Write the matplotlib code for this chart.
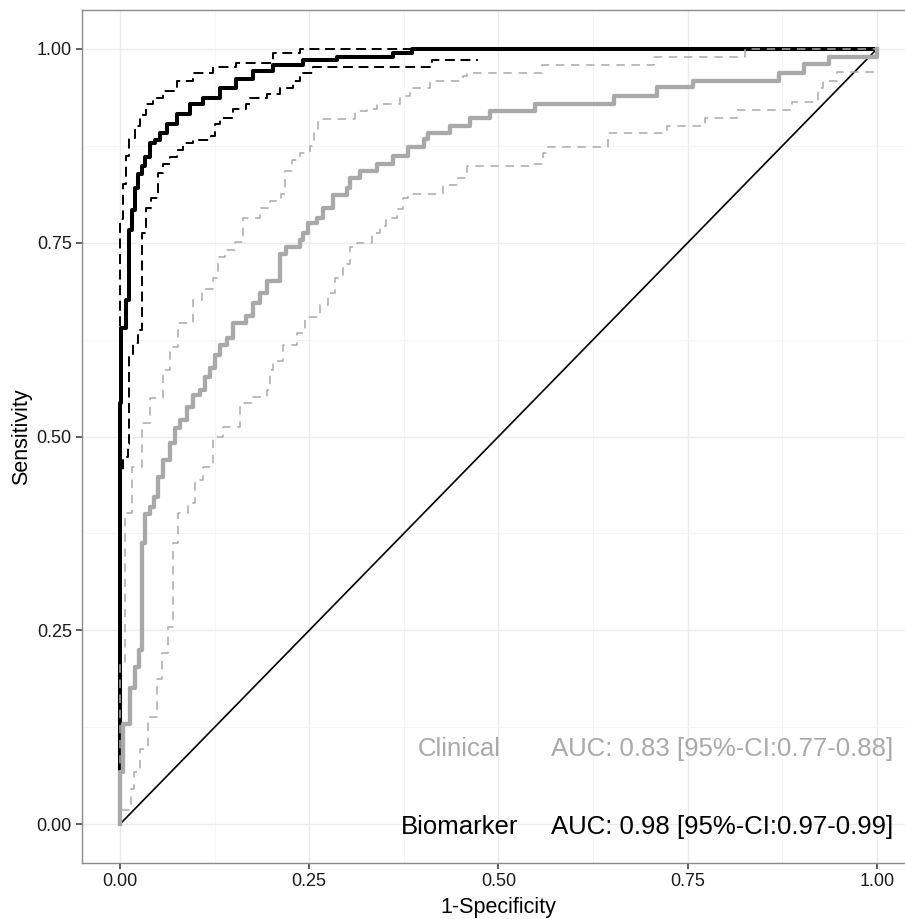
import matplotlib.pyplot as plt
from matplotlib.ticker import MultipleLocator

# font
plt.rcParams["font.family"] = ["Liberation Sans", "DejaVu Sans"]

# add data: ROC staircases, each point = (1-specificity, sensitivity reached there)
bio_fpr = [0, 0, 0.002, 0.008, 0.012, 0.0155, 0.0198, 0.0238, 0.0287, 0.033, 0.0396, 0.046,
           0.0528, 0.0617, 0.0749, 0.0925, 0.1096, 0.132, 0.154, 0.176, 0.202, 0.242, 0.287,
           0.361, 0.386, 1.0]
bio_tpr = [0, 0.543, 0.64, 0.676, 0.766, 0.792, 0.820, 0.839, 0.849, 0.860, 0.878, 0.882,
           0.892, 0.903, 0.916, 0.929, 0.937, 0.950, 0.961, 0.972, 0.979, 0.985, 0.989,
           0.994, 1.0, 1.0]

bio_hi_fpr = [0, 0, 0.0036, 0.008, 0.0123, 0.020, 0.0264, 0.035, 0.0436, 0.057, 0.0749, 0.0964,
              0.123, 0.154, 0.202, 0.238, 1.0]
bio_hi_tpr = [0, 0.78, 0.826, 0.862, 0.885, 0.901, 0.914, 0.929, 0.937, 0.946, 0.959, 0.969,
              0.976, 0.982, 0.994, 1.0, 1.0]

bio_lo_fpr = [0, 0, 0.0044, 0.011, 0.0123, 0.0167, 0.024, 0.0287, 0.034, 0.0406, 0.0506, 0.0572,
              0.066, 0.0749, 0.0836, 0.0968, 0.121, 0.1255, 0.132, 0.150, 0.167, 0.172, 0.194,
              0.211, 0.229, 0.238, 0.255, 0.412, 0.473]
bio_lo_tpr = [0, 0.457, 0.473, 0.49, 0.603, 0.62, 0.637, 0.762, 0.795, 0.808, 0.840, 0.852,
              0.860, 0.869, 0.878, 0.882, 0.888, 0.903, 0.911, 0.923, 0.929, 0.937, 0.942,
              0.950, 0.959, 0.969, 0.976, 0.986, 0.986]

clin_fpr = [0, 0, 0.0044, 0.0132, 0.0198, 0.0255, 0.0295, 0.033, 0.0396, 0.0449, 0.0506, 0.0572,
            0.066, 0.0727, 0.0793, 0.0881, 0.0968, 0.1057, 0.1123, 0.1189, 0.1255, 0.132, 0.141,
            0.150, 0.167, 0.176, 0.185, 0.194, 0.211, 0.220, 0.238, 0.242, 0.248, 0.260, 0.268,
            0.282, 0.2995, 0.304, 0.317, 0.339, 0.361, 0.381, 0.401, 0.407, 0.436, 0.462, 0.489,
            0.548, 0.652, 0.709, 0.757, 0.870, 0.903, 0.936, 1.0, 1.0]
clin_tpr = [0, 0.068, 0.129, 0.176, 0.203, 0.225, 0.363, 0.40, 0.409, 0.422, 0.448, 0.470,
            0.492, 0.511, 0.521, 0.538, 0.553, 0.560, 0.577, 0.588, 0.605, 0.618, 0.627,
            0.646, 0.656, 0.672, 0.685, 0.701, 0.736, 0.744, 0.753, 0.762, 0.775, 0.782, 0.795,
            0.811, 0.821, 0.833, 0.843, 0.852, 0.862, 0.873, 0.884, 0.892, 0.901, 0.911, 0.920,
            0.929, 0.939, 0.951, 0.959, 0.969, 0.980, 0.990, 1.0, 1.0]

clin_hi_fpr = [0, 0, 0.0066, 0.0154, 0.0287, 0.0396, 0.0569, 0.066, 0.077, 0.0964, 0.108, 0.123,
               0.130, 0.139, 0.152, 0.163, 0.185, 0.198, 0.213, 0.218, 0.227, 0.238, 0.251,
               0.257, 0.262, 0.310, 0.326, 0.339, 0.370, 0.383, 0.410, 0.4535, 0.458, 0.557,
               0.705, 0.826, 1.0]
clin_hi_tpr = [0, 0.208, 0.401, 0.461, 0.517, 0.55, 0.586, 0.615, 0.646, 0.676, 0.690, 0.705,
               0.731, 0.740, 0.751, 0.782, 0.795, 0.804, 0.813, 0.843, 0.856, 0.866, 0.875,
               0.892, 0.910, 0.920, 0.923, 0.929, 0.939, 0.950, 0.959, 0.965, 0.969, 0.979,
               0.989, 1.0, 1.0]

clin_lo_fpr = [0, 0, 0.0143, 0.0188, 0.0268, 0.0374, 0.0493, 0.0551, 0.0638, 0.0704, 0.077,
               0.0902, 0.099, 0.110, 0.123, 0.1365, 0.1585, 0.176, 0.194, 0.198, 0.2025, 0.216,
               0.2334, 0.2444, 0.264, 0.275, 0.284, 0.295, 0.304, 0.3127, 0.3325, 0.3435, 0.352,
               0.3655, 0.374, 0.381, 0.427, 0.445, 0.458, 0.5416, 0.559, 0.5637, 0.645, 0.722,
               0.773, 0.815, 0.887, 0.922, 0.929, 0.947, 1.0]
clin_lo_tpr = [0, 0.019, 0.045, 0.067, 0.097, 0.138, 0.187, 0.221, 0.255, 0.363, 0.401,
               0.414, 0.444, 0.461, 0.499, 0.512, 0.543, 0.551, 0.560, 0.586, 0.598, 0.618,
               0.633, 0.654, 0.669, 0.685, 0.705, 0.723, 0.744, 0.749, 0.762, 0.772, 0.782,
               0.794, 0.808, 0.813, 0.824, 0.834, 0.849, 0.852, 0.865, 0.873, 0.891, 0.901,
               0.911, 0.921, 0.931, 0.949, 0.959, 0.970, 0.970]

labels = ["Clinical", "Biomarker"]
auc_text = ["AUC: 0.83 [95%-CI:0.77-0.88]", "AUC: 0.98 [95%-CI:0.97-0.99]"]

black = "black"
grey = "#a9a9a9"

fig = plt.figure(figsize=(9.05, 9.19), dpi=100)
ax = fig.add_axes([0.0906, 0.0609, 0.9204, 0.9282])

# grid like theme_bw
ax.xaxis.set_major_locator(MultipleLocator(0.25))
ax.yaxis.set_major_locator(MultipleLocator(0.25))
ax.xaxis.set_minor_locator(MultipleLocator(0.125))
ax.yaxis.set_minor_locator(MultipleLocator(0.125))
ax.grid(which="major", color="#ebebeb", lw=1.0, zorder=0)
ax.grid(which="minor", color="#f4f4f4", lw=0.6, zorder=0)
ax.set_axisbelow(True)

# draw lines
ax.plot([0, 1], [0, 1], color="black", lw=1.2, zorder=2)
ax.plot(bio_fpr, bio_tpr, drawstyle="steps-post", color=black, lw=2.9, zorder=3)
ax.plot(bio_hi_fpr, bio_hi_tpr, drawstyle="steps-post", color=black, lw=1.4,
        linestyle=(0, (5.1, 2.9)), zorder=4)
ax.plot(bio_lo_fpr, bio_lo_tpr, drawstyle="steps-post", color=black, lw=1.4,
        linestyle=(0, (5.1, 2.9)), zorder=4)
ax.plot(clin_fpr, clin_tpr, drawstyle="steps-post", color=grey, lw=3.1, zorder=5)
ax.plot(clin_hi_fpr, clin_hi_tpr, drawstyle="steps-post", color=grey, lw=1.1,
        linestyle=(0, (5.5, 4.4)), zorder=6)
ax.plot(clin_lo_fpr, clin_lo_tpr, drawstyle="steps-post", color=grey, lw=1.1,
        linestyle=(0, (5.5, 4.4)), zorder=6)

# annotations
ax.text(0.448, 0.0875, labels[0], color=grey, fontsize=18.5, ha="center", va="baseline")
ax.text(0.795, 0.0875, auc_text[0], color=grey, fontsize=18.5, ha="center", va="baseline")
ax.text(0.448, -0.013, labels[1], color=black, fontsize=18.5, ha="center", va="baseline")
ax.text(0.795, -0.013, auc_text[1], color=black, fontsize=18.5, ha="center", va="baseline")

ax.set_xlim(-0.05, 1.05)
ax.set_ylim(-0.05, 1.05)
ax.set_xticks([0, 0.25, 0.5, 0.75, 1.0])
ax.set_yticks([0, 0.25, 0.5, 0.75, 1.0])
ax.set_xticklabels(["0.00", "0.25", "0.50", "0.75", "1.00"])
ax.set_yticklabels(["0.00", "0.25", "0.50", "0.75", "1.00"])
ax.tick_params(which="major", length=4.3, width=1.1, color="#333333", labelsize=13,
               labelcolor="#1a1a1a", pad=3)
ax.tick_params(which="minor", length=0)
for s in ax.spines.values():
    s.set_color("#8c8c8c")
    s.set_linewidth(1.0)

ax.set_xlabel("1-Specificity", fontsize=15.5, labelpad=5)
ax.set_ylabel("Sensitivity", fontsize=15.5, labelpad=3)

plt.savefig("out.png", dpi=100)
